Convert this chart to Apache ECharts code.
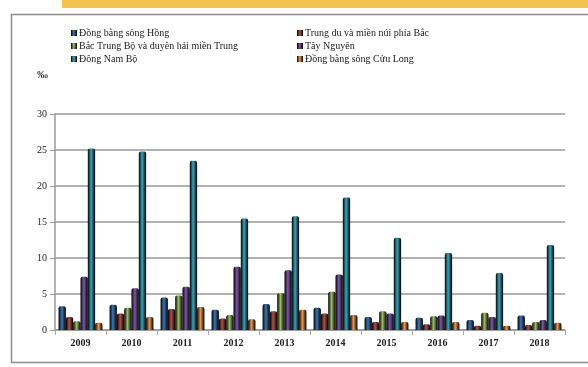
<!DOCTYPE html>
<html><head><meta charset="utf-8">
<script src="https://cdn.jsdelivr.net/npm/echarts@6/dist/echarts.min.js"></script>
<style>html,body{margin:0;padding:0;background:#fff}#c{width:588px;height:367px}</style>
</head><body><div id="c"></div>
<script>
const categories = ['2009','2010','2011','2012','2013','2014','2015','2016','2017','2018'];
const seriesNames = ['Đồng bằng sông Hồng','Trung du và miền núi phía Bắc','Bắc Trung Bộ và duyên hải miền Trung','Tây Nguyên','Đông Nam Bộ','Đồng bằng sông Cửu Long'];
const dbsh = [3.3, 3.5, 4.5, 2.8, 3.6, 3.1, 1.8, 1.7, 1.4, 2.0];
const tdmn = [1.8, 2.3, 2.9, 1.6, 2.6, 2.3, 1.1, 0.8, 0.6, 0.7];
const btb  = [1.2, 3.1, 4.8, 2.1, 5.1, 5.3, 2.6, 1.9, 2.4, 1.1];
const tn   = [7.4, 5.8, 6.0, 8.8, 8.3, 7.7, 2.3, 2.0, 1.8, 1.4];
const dnb  = [25.2, 24.8, 23.5, 15.5, 15.8, 18.4, 12.8, 10.7, 7.9, 11.8];
const dbscl= [1.0, 1.8, 3.2, 1.5, 2.8, 2.1, 1.1, 1.1, 0.6, 1.0];
const yTicks = [0, 5, 10, 15, 20, 25, 30];
const colors = ['#1f5ea6','#a3342c','#8cb04a','#663e97','#1a96b0','#e8892f'];
const values = [dbsh, tdmn, btb, tn, dnb, dbscl];

function shade(c){
  return {type:'linear',x:0,y:0,x2:1,y2:0,colorStops:[
    {offset:0,color:echarts.color.modifyHSL(c,null,null,-0.08)},
    {offset:0.45,color:echarts.color.lift(c,0.15)},
    {offset:1,color:echarts.color.modifyHSL(c,null,null,-0.12)}]};
}
const font = '"Liberation Serif", "DejaVu Serif", serif';
const chart = echarts.init(document.getElementById('c'), null, {renderer:'canvas'});
chart.setOption({
  animation:false,
  color: colors,
  textStyle:{fontFamily:font},
  graphic:[
    {type:'rect',shape:{x:62,y:0,width:530,height:8},style:{fill:'#f2c44e'},z:-10},
    {type:'rect',shape:{x:11.5,y:14.5,width:590,height:348},style:{fill:'none',stroke:'#8c8c8c',lineWidth:1.5},z:-10},
    {type:'text',left:37,top:70,style:{text:'‰',font:'bold 11px '+font,fill:'#333'}}
  ],
  legend:[
    {data:seriesNames.filter((n,i)=>i%2===0),orient:'vertical',left:66,top:23,itemWidth:6,itemHeight:6,itemGap:3,icon:'rect',
     textStyle:{fontSize:10,fontFamily:font,color:'#222',padding:[0,0,0,-3]}},
    {data:seriesNames.filter((n,i)=>i%2===1),orient:'vertical',left:292,top:23,itemWidth:6,itemHeight:6,itemGap:3,icon:'rect',
     textStyle:{fontSize:10,fontFamily:font,color:'#222',padding:[0,0,0,-3]}}
  ],
  grid:{left:55,right:23,top:114,bottom:37},
  xAxis:{type:'category',data:categories,
    axisLine:{lineStyle:{color:'#999',width:1.5}},
    axisTick:{show:true,lineStyle:{color:'#aaa'}},
    axisLabel:{fontSize:10,fontFamily:font,color:'#222',margin:8,fontWeight:'bold'}},
  yAxis:{type:'value',min:yTicks[0],max:yTicks[yTicks.length-1],interval:5,
    axisLine:{show:true,lineStyle:{color:'#999',width:1.5}},
    axisTick:{show:true,lineStyle:{color:'#999'}},
    splitLine:{lineStyle:{color:'#999',width:1.5}},
    axisLabel:{fontSize:10,fontFamily:font,color:'#222',margin:8}},
  series: values.map((v,i)=>({
    name:seriesNames[i],type:'bar',data:v,barGap:'0%',barCategoryGap:'14%',
    itemStyle:{color:shade(colors[i]),borderRadius:[2,2,0,0]}
  }))
});
</script></body></html>
